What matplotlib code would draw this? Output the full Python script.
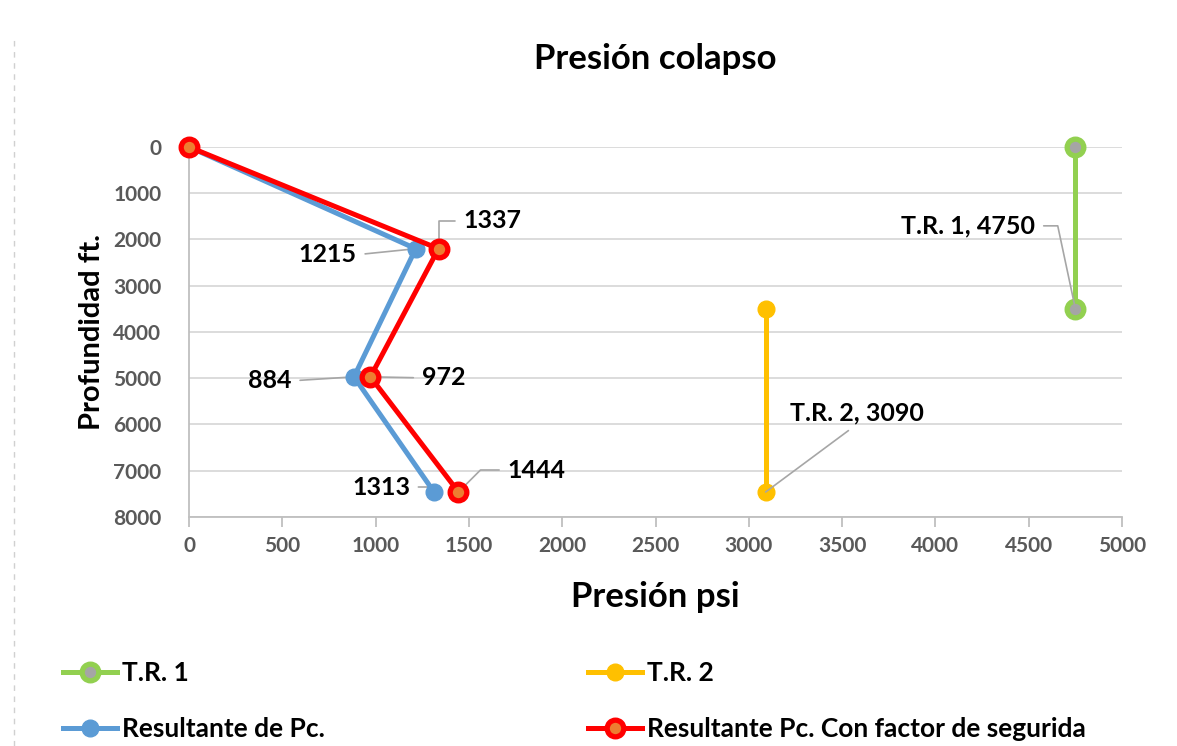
import matplotlib
matplotlib.use('Agg')
from matplotlib import pyplot as plt
from matplotlib.lines import Line2D

plt.rcParams['font.family'] = ['Lato', 'DejaVu Sans']
plt.rcParams['font.weight'] = 'bold'

# presión (psi) vs profundidad (ft)
tr1_x = [4750, 4750]
tr1_y = [0, 3500]
tr2_x = [3090, 3090]
tr2_y = [3500, 7460]
pc_x = [0, 1215, 884, 1313]
pc_y = [0, 2200, 4970, 7460]
pcfs_x = [0, 1337, 972, 1444]
pcfs_y = [0, 2200, 4970, 7460]

names = ['T.R. 1', 'T.R. 2', 'Resultante de Pc.',
         'Resultante Pc. Con factor de segurida']

x_ticks = list(range(0, 5001, 500))
y_ticks = list(range(0, 8001, 1000))

fig = plt.figure(figsize=(11.77, 7.46), dpi=100)
ax = fig.add_axes([0.1606, 0.307, 0.7927, 0.496])

style = dict(lw=3.6, marker='o', ms=12, clip_on=False)
l1, = ax.plot(tr1_x, tr1_y, color='#92d050', mfc='#a5a5a5', mec='#92d050',
              mew=3.8, label=names[0], zorder=3, **style)
l2, = ax.plot(tr2_x, tr2_y, color='#ffc000', mfc='#ffc000', mec='#ffc000',
              label=names[1], zorder=3, **style)
l3, = ax.plot(pc_x, pc_y, color='#5b9bd5', mfc='#5b9bd5', mec='#5b9bd5',
              label=names[2], zorder=4, **style)
l4, = ax.plot(pcfs_x, pcfs_y, color='#ff0000', mfc='#ed7d31', mec='#ff0000',
              mew=3.8, label=names[3], zorder=5, **style)

ax.set_xlim(0, 5000)
ax.set_ylim(8000, 0)
ax.set_xticks(x_ticks)
ax.set_yticks(y_ticks)
ax.grid(axis='y', color='#d9d9d9', lw=1.3)
ax.set_axisbelow(True)
for s in ['top', 'right']:
    ax.spines[s].set_visible(False)
for s in ['left', 'bottom']:
    ax.spines[s].set_color('#bfbfbf')
    ax.spines[s].set_linewidth(1.3)
ax.tick_params(axis='x', colors='#bfbfbf', length=7, width=1.3,
               labelcolor='#595959', labelsize=15, pad=7)
ax.tick_params(axis='y', length=0, labelcolor='#595959', labelsize=15, pad=20)

ax.set_title('Presión colapso', fontsize=25, fontweight='bold', pad=56)
ax.set_xlabel('Presión psi', fontsize=25, fontweight='bold', labelpad=18)
ax.set_ylabel('Profundidad ft.', fontsize=21, fontweight='bold', labelpad=6)

# etiquetas de datos con líneas guía
def label(text, xy, off, relpos, conn='arc3'):
    ax.annotate(text, xy, xytext=off, textcoords='offset pixels',
                ha='center', va='center', fontsize=18, fontweight='bold',
                arrowprops=dict(arrowstyle='-', color='#a6a6a6', lw=1.2,
                                shrinkA=4, shrinkB=0, relpos=relpos,
                                connectionstyle=conn))

label(f'{pc_x[1]}', (pc_x[1], pc_y[1]), (-88, -6), (1, 0.5))
label(f'{pc_x[2]}', (pc_x[2], pc_y[2]), (-84, -4), (1, 0.5))
label(f'{pc_x[3]}', (pc_x[3], pc_y[3]), (-53, 5), (1, 0.5),
      'angle,angleA=0,angleB=130,rad=0')
label(f'{pcfs_x[1]}', (pcfs_x[1], pcfs_y[1]), (54, 28), (0, 0.5),
      'angle,angleA=0,angleB=90,rad=0')
label(f'{pcfs_x[2]}', (pcfs_x[2], pcfs_y[2]), (73, -1), (0, 0.5))
label(f'{pcfs_x[3]}', (pcfs_x[3], pcfs_y[3]), (78, 22), (0, 0.5),
      'angle,angleA=0,angleB=45,rad=0')
label(f'{names[0]}, {tr1_x[1]}', (tr1_x[1], tr1_y[1]), (-107, 83), (1, 0.5),
      'angle,angleA=0,angleB=102,rad=0')
label(f'{names[1]}, {tr2_x[1]}', (tr2_x[1], tr2_y[1]), (91, 79), (0.5, 0))

leg = dict(loc='center left', frameon=False, fontsize=19, handlelength=2.05,
           handletextpad=0.2, labelspacing=1.2, borderpad=0, borderaxespad=0)
fig.legend([l1, l3], [names[0], names[2]], bbox_to_anchor=(0.0535, 0.0600), **leg)
fig.legend([l2, l4], [names[1], names[3]], bbox_to_anchor=(0.4996, 0.0600), **leg)

fig.add_artist(Line2D([0.012, 0.012], [0.0, 0.95], color='#d0d0d0',
                      lw=1, ls=(0, (4, 4))))

fig.savefig('out.png', dpi=100)
